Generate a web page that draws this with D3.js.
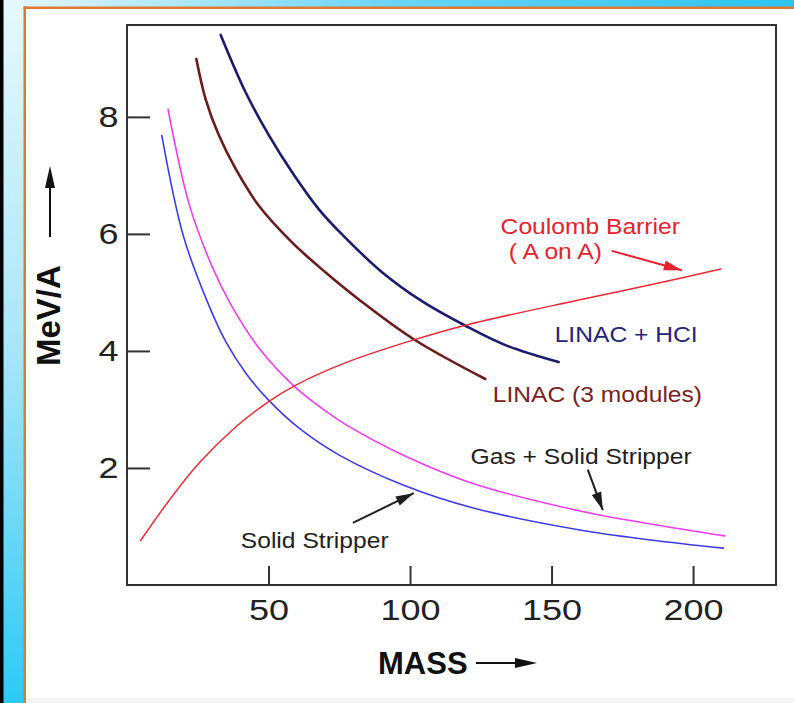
<!DOCTYPE html>
<html>
<head>
<meta charset="utf-8">
<script src="https://cdn.jsdelivr.net/npm/d3@7/dist/d3.min.js"></script>
<style>
  html, body { margin: 0; padding: 0; background: #fff; }
  svg { display: block; }
  text { font-family: "Liberation Sans", Arial, Helvetica, sans-serif; }
</style>
</head>
<body>
<svg id="chart" width="794" height="703"></svg>
<script>
"use strict";

// mass (A) and MeV/A values
const solidStripperMass = [12.3, 20, 29, 35, 42, 50.2, 60.8, 75, 98, 122, 160, 185, 210.7];
const solidStripperMeV  = [7.68, 5.95, 4.77, 4.15, 3.62, 3.15, 2.68, 2.22, 1.7, 1.32, 0.94, 0.77, 0.63];

const gasStripperMass = [14.5, 22, 30, 36.6, 46.6, 59, 70.2, 77.3, 98.4, 121.9, 159.6, 186.5, 211.2];
const gasStripperMeV  = [8.13, 6.5, 5.45, 4.8, 4.05, 3.4, 2.97, 2.74, 2.2, 1.74, 1.27, 1.03, 0.84];

const linac3Mass = [24.5, 27.8, 32.5, 38.4, 46.6, 58.4, 70.2, 81.9, 101.3, 126.6];
const linac3MeV  = [8.99, 8.3, 7.68, 7.11, 6.48, 5.85, 5.34, 4.88, 4.2, 3.52];

const linacHciMass = [33.1, 41.9, 50.2, 58.4, 67.8, 75.8, 90, 104.2, 119.6, 133.7, 152.5];
const linacHciMeV  = [9.4, 8.42, 7.68, 7.05, 6.42, 6.0, 5.35, 4.85, 4.43, 4.1, 3.81];

const coulombMass = [4.8, 14.8, 25.4, 38.4, 50.2, 59, 77.3, 100.7, 119.6, 159.6, 185, 209.8];
const coulombMeV  = [0.76, 1.44, 2.08, 2.7, 3.14, 3.4, 3.8, 4.18, 4.44, 4.87, 5.13, 5.4];

const xTicks = [50, 100, 150, 200];
const yTicks = [2, 4, 6, 8];

const seriesNames  = ["Solid Stripper", "Gas + Solid Stripper", "LINAC (3 modules)", "LINAC + HCI", "Coulomb Barrier"];
const seriesColors = ["#3d3de6", "#f23cf2", "#6a1c1c", "#1c1c6e", "#ec2a36"];
const seriesWidths = [1.6, 1.6, 2.6, 2.6, 1.5];
const seriesData = [
    [solidStripperMass, solidStripperMeV],
    [gasStripperMass, gasStripperMeV],
    [linac3Mass, linac3MeV],
    [linacHciMass, linacHciMeV],
    [coulombMass, coulombMeV]
];

// curve labels, anchored in data units (mass, MeV/A)
const labelTexts  = ["Solid Stripper", "Gas + Solid Stripper", "LINAC (3 modules)", "LINAC + HCI", "Coulomb Barrier", "( A on A)"];
const labelMass   = [40.2, 121.4, 129.2, 151.1, 132.0, 134.9];
const labelMeV    = [0.63, 2.07, 3.13, 4.15, 6.0, 5.57];
const labelColors = ["#1e1e1e", "#1e1e1e", "#7a2222", "#25257a", "#e8222e", "#e8222e"];

// pointer arrows: [fromMass, fromMeV, toMass, toMeV]
const arrowLines  = [[79.8, 1.06, 101.3, 1.57], [162.8, 1.97, 168.1, 1.28], [171.3, 5.71, 196.0, 5.38]];
const arrowColors = ["#1e1e1e", "#1e1e1e", "#e8222e"];

const W = 794, H = 703;
const margin = {left: 127, top: 25, right: 18, bottom: 118};
const stretch = 1.12;   // the original lettering is a little wide

const svg = d3.select("#chart");
const defs = svg.append("defs");

// slide frame: blue bars with an orange rule
const gV = defs.append("linearGradient").attr("id", "gV")
    .attr("x1", 0).attr("y1", 0).attr("x2", 0).attr("y2", 1);
gV.append("stop").attr("offset", 0).attr("stop-color", "#e6f8fd");
gV.append("stop").attr("offset", 0.5).attr("stop-color", "#a8e6fa");
gV.append("stop").attr("offset", 1).attr("stop-color", "#2ccaf6");
const gH = defs.append("linearGradient").attr("id", "gH")
    .attr("x1", 0).attr("y1", 0).attr("x2", 1).attr("y2", 0);
gH.append("stop").attr("offset", 0).attr("stop-color", "#e6f8fd");
gH.append("stop").attr("offset", 0.5).attr("stop-color", "#6ad4f6");
gH.append("stop").attr("offset", 1).attr("stop-color", "#2cc4f0");

const frame = svg.append("g").classed("frame", true);
frame.append("rect").attr("x", 0).attr("y", 0).attr("width", W).attr("height", 7).attr("fill", "url(#gH)");
frame.append("rect").attr("x", 0).attr("y", 0).attr("width", 24).attr("height", H).attr("fill", "url(#gV)");
frame.append("rect").attr("x", 0).attr("y", 0).attr("width", 3.5).attr("height", H).attr("fill", "#000");
frame.append("rect").attr("x", 23.5).attr("y", 6.5).attr("width", W - 23.5).attr("height", 2.5).attr("fill", "#e0782e");
frame.append("rect").attr("x", 23.5).attr("y", 6.5).attr("width", 2.5).attr("height", H).attr("fill", "#e0782e");
frame.append("rect").attr("x", 26).attr("y", 698).attr("width", W - 26).attr("height", 5).attr("fill", "#f4f4f4");

const x = d3.scaleLinear().domain([0, 229.3]).range([margin.left, W - margin.right]);
const y = d3.scaleLinear().domain([0, 9.57]).range([H - margin.bottom, margin.top]);

// axes with inward ticks
svg.append("g")
    .attr("transform", `translate(0,${y(0)})`)
    .call(d3.axisBottom(x).tickValues(xTicks).tickSize(-19).tickPadding(35).tickFormat(d3.format("d")))
    .call(g => g.select(".domain").remove())
    .call(g => g.selectAll(".tick line").attr("stroke", "#333").attr("stroke-width", 2))
    .call(g => g.selectAll(".tick text").attr("font-size", 30).attr("fill", "#222").attr("dy", 0)
        .attr("transform", "scale(1.2,1)"));

svg.append("g")
    .attr("transform", `translate(${x(0)},0)`)
    .call(d3.axisLeft(y).tickValues(yTicks).tickSize(-23).tickPadding(7).tickFormat(d3.format("d")))
    .call(g => g.select(".domain").remove())
    .call(g => g.selectAll(".tick line").attr("stroke", "#333").attr("stroke-width", 2))
    .call(g => g.selectAll(".tick text").attr("font-size", 30).attr("fill", "#222")
        .attr("transform", "scale(1.2,1)"));

svg.append("rect")
    .attr("x", x(0)).attr("y", y(9.57))
    .attr("width", x(229.3) - x(0)).attr("height", y(0) - y(9.57))
    .attr("fill", "none").attr("stroke", "#333").attr("stroke-width", 2);

// curves
const line = d3.line().curve(d3.curveCatmullRom.alpha(0.5));
svg.append("g").classed("curves", true)
    .selectAll("path")
    .data(seriesData)
    .join("path")
    .attr("d", ([ms, vs]) => line(ms.map((m, i) => [x(m), y(vs[i])])))
    .attr("fill", "none")
    .attr("stroke", (d, i) => seriesColors[i])
    .attr("stroke-width", (d, i) => seriesWidths[i])
    .attr("stroke-linecap", "round");

// labels
svg.append("g").classed("labels", true)
    .selectAll("text")
    .data(labelTexts)
    .join("text")
    .attr("transform", (d, i) => `translate(${x(labelMass[i])},${y(labelMeV[i])}) scale(${stretch},1)`)
    .attr("font-size", 22)
    .attr("fill", (d, i) => labelColors[i])
    .text(d => d);

// arrow head helper
function arrowHead(x1, y1, x2, y2, len, half) {
    const a = Math.atan2(y2 - y1, x2 - x1);
    const bx = x2 - len * Math.cos(a), by = y2 - len * Math.sin(a);
    const px = -Math.sin(a) * half, py = Math.cos(a) * half;
    return `M${x2},${y2}L${bx + px},${by + py}L${bx - px},${by - py}Z`;
}

const arrows = svg.append("g").classed("arrows", true)
    .selectAll("g")
    .data(arrowLines)
    .join("g");
arrows.append("line")
    .attr("x1", d => x(d[0])).attr("y1", d => y(d[1]))
    .attr("x2", d => x(d[2])).attr("y2", d => y(d[3]))
    .attr("stroke", (d, i) => arrowColors[i]).attr("stroke-width", 2);
arrows.append("path")
    .attr("d", d => arrowHead(x(d[0]), y(d[1]), x(d[2]), y(d[3]), 18, 5))
    .attr("fill", (d, i) => arrowColors[i]);

// axis titles with arrows
svg.append("text")
    .attr("x", 378).attr("y", 674)
    .attr("font-size", 31).attr("font-weight", "bold").attr("fill", "#111")
    .text("MASS");
svg.append("line").attr("x1", 476).attr("y1", 663).attr("x2", 520).attr("y2", 663)
    .attr("stroke", "#111").attr("stroke-width", 2);
svg.append("path").attr("d", arrowHead(476, 663, 537, 663, 22, 5)).attr("fill", "#111");

svg.append("text")
    .attr("transform", "translate(60,366) rotate(-90)")
    .attr("font-size", 33).attr("font-weight", "bold").attr("fill", "#111")
    .text("MeV/A");
svg.append("line").attr("x1", 50).attr("y1", 237).attr("x2", 50).attr("y2", 185)
    .attr("stroke", "#111").attr("stroke-width", 2);
svg.append("path").attr("d", arrowHead(50, 237, 50, 166, 22, 5)).attr("fill", "#111");
</script>
</body>
</html>
